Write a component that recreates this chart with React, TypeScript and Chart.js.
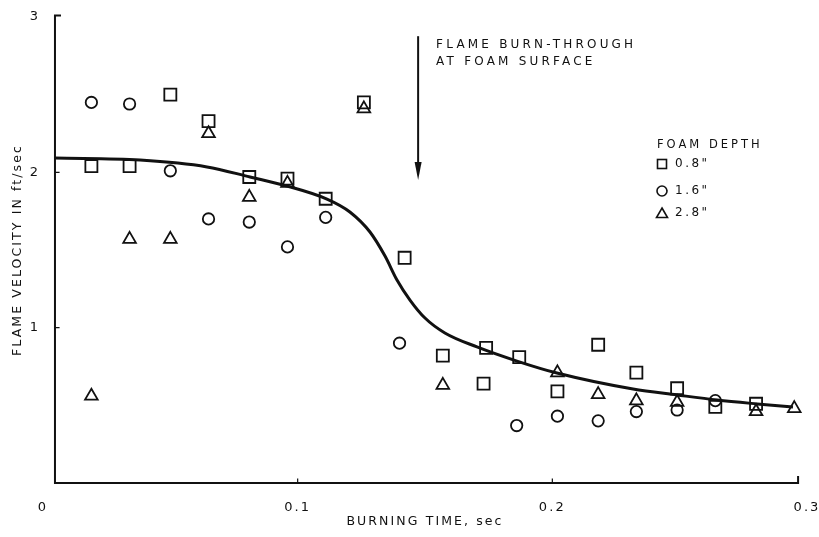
import React, { useEffect, useRef } from 'react';
import { Chart, registerables } from 'chart.js';

Chart.register(...registerables);

// ---- data ----
const xTickValues = [0, 0.1, 0.2, 0.3];
const yTickValues = [1, 2, 3];

const legendTitle = 'FOAM DEPTH';
const seriesLabels = ['0.8"', '1.6"', '2.8"'];

const squareX = [0.019, 0.034, 0.050, 0.065, 0.081, 0.096, 0.111, 0.126, 0.142, 0.157, 0.173, 0.174, 0.187, 0.202, 0.218, 0.233, 0.249, 0.264, 0.280];
const squareY = [2.04, 2.04, 2.50, 2.33, 1.97, 1.96, 1.83, 2.45, 1.45, 0.82, 0.64, 0.87, 0.81, 0.59, 0.89, 0.71, 0.61, 0.49, 0.51];

const circleX = [0.019, 0.034, 0.050, 0.065, 0.081, 0.096, 0.111, 0.140, 0.186, 0.202, 0.218, 0.233, 0.249, 0.264];
const circleY = [2.45, 2.44, 2.01, 1.70, 1.68, 1.52, 1.71, 0.90, 0.37, 0.43, 0.40, 0.46, 0.47, 0.53];

const triangleX = [0.019, 0.034, 0.050, 0.065, 0.081, 0.096, 0.126, 0.157, 0.202, 0.218, 0.233, 0.249, 0.280, 0.295];
const triangleY = [0.56, 1.57, 1.57, 2.25, 1.84, 1.93, 2.41, 0.63, 0.71, 0.57, 0.53, 0.52, 0.46, 0.48];

const curveX = [0.0047, 0.0381, 0.0644, 0.0813, 0.0958, 0.1115, 0.1205, 0.1284, 0.1343, 0.1390, 0.1441, 0.1500, 0.1578, 0.1704, 0.1861, 0.2018, 0.2317, 0.2489, 0.2647, 0.2804, 0.2945];
const curveY = [2.092, 2.079, 2.035, 1.970, 1.912, 1.828, 1.745, 1.616, 1.461, 1.307, 1.178, 1.062, 0.966, 0.876, 0.785, 0.708, 0.605, 0.567, 0.534, 0.509, 0.489];

const annotationLines = ['FLAME BURN-THROUGH', 'AT FOAM SURFACE'];
const arrowX = 0.1473;
const arrowYTop = 2.87;
const arrowYTip = 1.95;

// axis frame extent (data units)
const frameX0 = 0.0047;
const frameX1 = 0.2965;
const frameYTop = 3.01;

const INK = '#111111';
const FONT_FAMILY = '"DejaVu Sans", "Liberation Sans", sans-serif';

const toPoints = (xs: number[], ys: number[]) => xs.map((x, i) => ({ x, y: ys[i] }));

const decorPlugin = {
  id: 'decor',
  beforeDraw(chart: any) {
    chart.ctx.letterSpacing = '2.1px';
  },
  afterDraw(chart: any) {
    const { ctx, scales } = chart;
    const xs = scales.x;
    const ys = scales.y;
    ctx.save();
    ctx.strokeStyle = INK;
    ctx.fillStyle = INK;
    ctx.lineCap = 'square';

    // axis frame
    const fx0 = xs.getPixelForValue(frameX0);
    const fx1 = xs.getPixelForValue(frameX1);
    const fy0 = ys.getPixelForValue(0);
    const fyTop = ys.getPixelForValue(frameYTop);
    ctx.lineWidth = 2;
    ctx.beginPath();
    ctx.moveTo(fx0 + 5, fyTop);
    ctx.lineTo(fx0, fyTop);
    ctx.lineTo(fx0, fy0);
    ctx.lineTo(fx1, fy0);
    ctx.lineTo(fx1, fy0 - 6);
    ctx.stroke();

    // small inward tick marks
    ctx.lineWidth = 1.2;
    ctx.beginPath();
    [1, 2].forEach((v) => {
      const py = ys.getPixelForValue(v);
      ctx.moveTo(fx0, py);
      ctx.lineTo(fx0 + 4, py);
    });
    [0.1, 0.2].forEach((v) => {
      const px = xs.getPixelForValue(v);
      ctx.moveTo(px, fy0);
      ctx.lineTo(px, fy0 - 4);
    });
    ctx.stroke();

    // annotation arrow
    const ax = xs.getPixelForValue(arrowX);
    const ayTop = ys.getPixelForValue(arrowYTop);
    const ayTip = ys.getPixelForValue(arrowYTip);
    ctx.lineWidth = 2;
    ctx.beginPath();
    ctx.moveTo(ax, ayTop);
    ctx.lineTo(ax, ayTip - 14);
    ctx.stroke();
    ctx.beginPath();
    ctx.moveTo(ax - 3.5, ayTip - 18);
    ctx.lineTo(ax + 3.5, ayTip - 18);
    ctx.lineTo(ax, ayTip);
    ctx.closePath();
    ctx.fill();

    // annotation text
    ctx.font = `12px ${FONT_FAMILY}`;
    ctx.letterSpacing = '3.2px';
    ctx.textAlign = 'left';
    ctx.textBaseline = 'middle';
    annotationLines.forEach((t, i) => {
      ctx.fillText(t, ax + 18, ayTop + 8 + i * 17);
    });

    // legend
    const lx = 657;
    const ly = 145;
    ctx.font = `11.5px ${FONT_FAMILY}`;
    ctx.letterSpacing = '3px';
    ctx.fillText(legendTitle, lx, ly);
    const rows = [ly + 19, ly + 46, ly + 68];
    const mx = lx + 5;
    ctx.lineWidth = 1.6;
    // square
    ctx.strokeRect(mx - 4.5, rows[0] - 4.5, 9, 9);
    // circle
    ctx.beginPath();
    ctx.arc(mx, rows[1], 5, 0, Math.PI * 2);
    ctx.stroke();
    // triangle
    ctx.beginPath();
    ctx.moveTo(mx, rows[2] - 5);
    ctx.lineTo(mx + 5.5, rows[2] + 4.5);
    ctx.lineTo(mx - 5.5, rows[2] + 4.5);
    ctx.closePath();
    ctx.stroke();
    ctx.font = `12px ${FONT_FAMILY}`;
    ctx.letterSpacing = '2.5px';
    seriesLabels.forEach((t, i) => {
      ctx.fillText(t, lx + 18, rows[i]);
    });

    ctx.restore();
  },
};

export default function App() {
  const canvasRef = useRef<HTMLCanvasElement | null>(null);

  useEffect(() => {
    if (!canvasRef.current) return;
    const markerCommon = {
      showLine: false,
      borderColor: INK,
      backgroundColor: 'rgba(0,0,0,0)',
      borderWidth: 1.8,
      order: 0,
    };
    const chart = new Chart(canvasRef.current, {
      type: 'scatter',
      data: {
        datasets: [
          {
            label: 'curve',
            data: toPoints(curveX, curveY),
            showLine: true,
            borderColor: INK,
            borderWidth: 3,
            pointRadius: 0,
            cubicInterpolationMode: 'monotone',
            fill: false,
            order: 10,
          } as any,
          {
            ...markerCommon,
            label: seriesLabels[0],
            data: toPoints(squareX, squareY),
            pointStyle: 'rect',
            pointRadius: 8.5,
          } as any,
          {
            ...markerCommon,
            label: seriesLabels[1],
            data: toPoints(circleX, circleY),
            pointStyle: 'circle',
            pointRadius: 5.7,
          } as any,
          {
            ...markerCommon,
            label: seriesLabels[2],
            data: toPoints(triangleX, triangleY),
            pointStyle: 'triangle',
            pointRadius: 7.3,
          } as any,
        ],
      },
      options: {
        responsive: false,
        animation: false,
        devicePixelRatio: 1,
        layout: { padding: { top: 17, right: 12, bottom: 0, left: 0 } },
        plugins: {
          legend: { display: false },
          tooltip: { enabled: false },
        },
        scales: {
          x: {
            type: 'linear',
            min: 0,
            max: 0.3,
            grid: { display: false },
            border: { display: false },
            afterBuildTicks: (s: any) => {
              s.ticks = xTickValues.map((value) => ({ value }));
            },
            afterFit: (s: any) => {
              s.height = 54;
              s.paddingLeft = 0;
              s.paddingRight = 0;
            },
            ticks: {
              color: INK,
              padding: 9,
              font: { family: FONT_FAMILY, size: 13 },
              callback: (v: any) => String(v),
              maxRotation: 0,
              autoSkip: false,
            },
            title: {
              display: true,
              text: 'BURNING TIME, sec',
              color: INK,
              font: { family: FONT_FAMILY, size: 12.5 },
              padding: { top: 0, bottom: 7.5 },
            },
          },
          y: {
            type: 'linear',
            min: 0,
            max: 3,
            grid: { display: false },
            border: { display: false },
            afterBuildTicks: (s: any) => {
              s.ticks = yTickValues.map((value) => ({ value }));
            },
            afterFit: (s: any) => {
              s.width = 43;
              s.paddingTop = 0;
              s.paddingBottom = 0;
            },
            ticks: {
              color: INK,
              padding: -5,
              font: { family: FONT_FAMILY, size: 13 },
              callback: (v: any) => String(v),
              autoSkip: false,
            },
            title: {
              display: true,
              text: 'FLAME VELOCITY IN ft/sec',
              color: INK,
              font: { family: FONT_FAMILY, size: 12.5 },
              padding: { top: 10.5, bottom: 0 },
            },
          },
        },
      } as any,
      plugins: [decorPlugin],
    });
    return () => chart.destroy();
  }, []);

  return (
    <div style={{ position: 'absolute', left: 0, top: 0, width: 819, height: 537, background: '#ffffff' }}>
      <canvas ref={canvasRef} width={819} height={537} style={{ display: 'block', width: 819, height: 537 }} />
    </div>
  );
}
